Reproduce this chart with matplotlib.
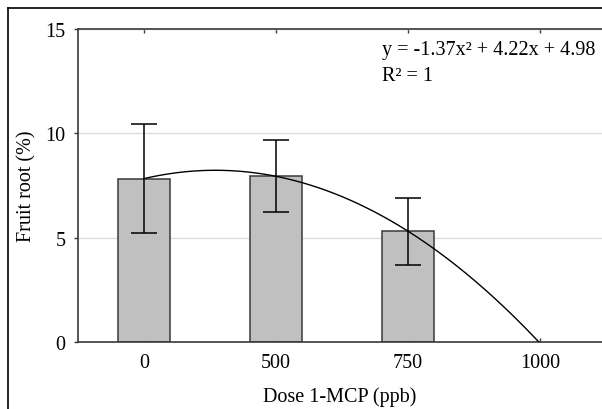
import numpy as np
import matplotlib
matplotlib.use("Agg")
import matplotlib.pyplot as plt
from matplotlib.lines import Line2D

categories = ["0", "500", "750", "1000"]
means = [7.83, 7.94, 5.31]
errors = [2.6, 1.72, 1.6]
coef = [-1.37, 4.22, 4.98]
y_ticks = [0, 5, 10, 15]

plt.rcParams['font.family'] = ['Liberation Serif', 'DejaVu Serif']
FS = 14.5

fig = plt.figure(figsize=(6.02, 4.10), dpi=100)
ax = fig.add_axes([78/602, 67/410, 528/602, 313/410])

pos = np.arange(len(categories))
bar_pos = pos[:len(means)]
ax.bar(bar_pos, means, width=0.4, color="#c0c0c0", edgecolor="#3a3a3a",
       linewidth=1.1, zorder=2)
ax.errorbar(bar_pos, means, yerr=errors, fmt="none", ecolor="black",
            elinewidth=1.1, capsize=9.5, capthick=1.1, zorder=3)

xe = np.linspace(1, len(categories), 200)
ye = np.polyval(coef, xe)
ax.plot(xe - 1, ye, color="black", linewidth=1.0, zorder=4)

ax.set_xlim(-0.5, 3.5)
ax.set_ylim(0, 15)
ax.set_xticks(pos)
ax.set_xticklabels(categories)
ax.set_yticks(y_ticks)
ax.yaxis.grid(True, color="#dcdcdc", linewidth=1.0, zorder=0)
ax.set_axisbelow(True)
for s in ["left", "top", "bottom", "right"]:
    ax.spines[s].set_color("#3a3a3a")
    ax.spines[s].set_linewidth(1.2)
ax.tick_params(axis="x", direction="in", top=True, length=3, width=1,
               color="#3a3a3a", labelsize=FS, pad=8)
ax.tick_params(axis="y", direction="out", length=3, width=1,
               color="#3a3a3a", labelsize=FS, pad=6)
ax.set_xlabel("Dose 1-MCP (ppb)", fontsize=FS, va="top")
ax.set_ylabel("Fruit root (%)", fontsize=FS, va="center")
ax.xaxis.set_label_coords((340-78)/528, -(387-343)/313)
ax.yaxis.set_label_coords(-(78-27)/528, 0.5)

fig.text(382/602, 1-50/410, "y = -1.37x² + 4.22x + 4.98",
         fontsize=FS, va="center", ha="left")
fig.text(382/602, 1-77/410, "R² = 1",
         fontsize=FS, va="center", ha="left")

fig.add_artist(Line2D([8/602, 8/602], [0, 1-9/410], transform=fig.transFigure,
                      color="black", linewidth=1.2))
fig.add_artist(Line2D([8/602, 1], [1-9/410, 1-9/410], transform=fig.transFigure,
                      color="black", linewidth=1.2))

fig.savefig("out.png", dpi=100)
